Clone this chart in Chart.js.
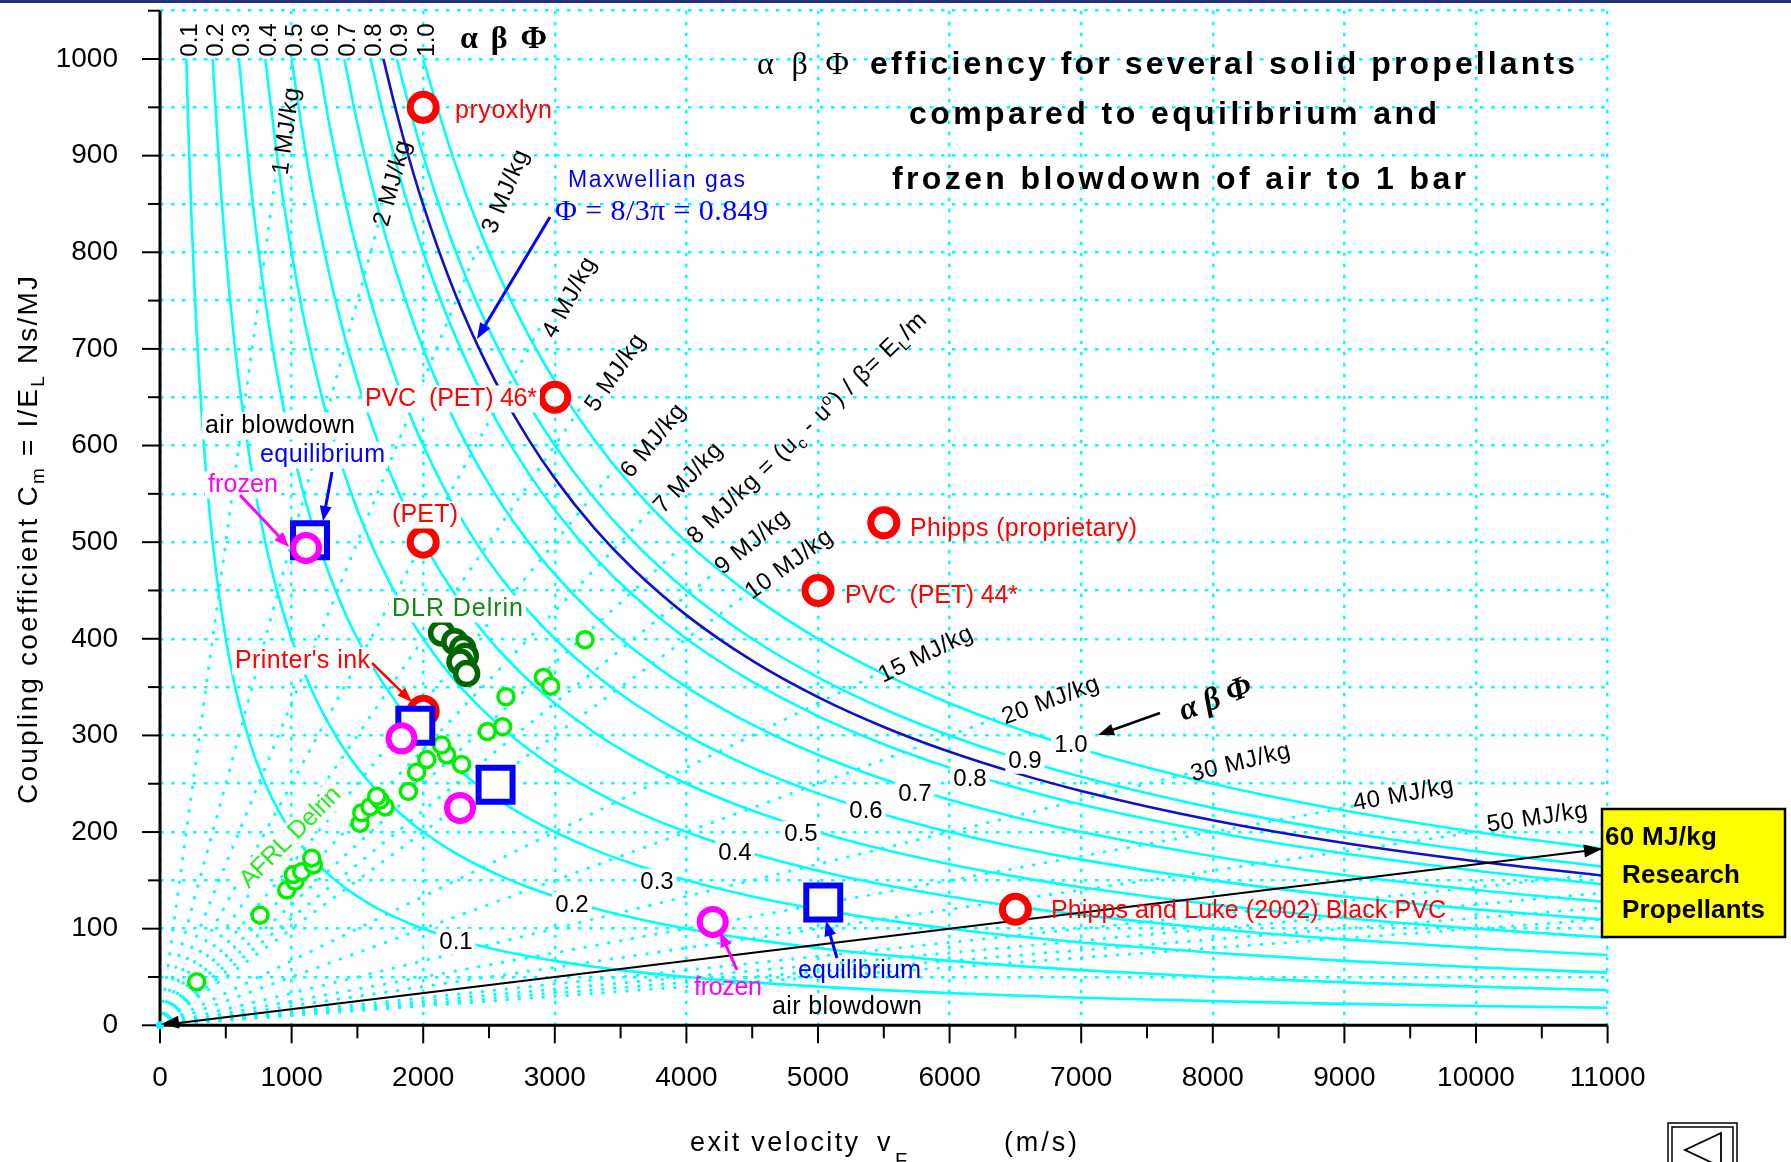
<!DOCTYPE html>
<html><head><meta charset="utf-8"><title>αβΦ efficiency for several solid propellants</title>
<script src="https://cdn.jsdelivr.net/npm/chart.js@4.4.1/dist/chart.umd.min.js"></script>
<style>html,body{margin:0;padding:0;background:#fff;overflow:hidden}canvas{display:block}</style>
</head><body>
<canvas id="chart" width="1791" height="1162"></canvas>
<script>
// ================= DATA =================
const xTickLabels = ['0','1000','2000','3000','4000','5000','6000','7000','8000','9000','10000','11000'];
const yTickLabels = ['0','100','200','300','400','500','600','700','800','900','1000'];

// iso-efficiency levels (alpha*beta*Phi) : Cm * v = 2 * level (Ns/MJ * m/s = 2e6 * level)
const efficiencyLevels = [0.1,0.2,0.3,0.4,0.5,0.6,0.7,0.8,0.9,1.0];
const maxwellianEfficiency = 0.849;          // Phi = 8/3pi
// iso-energy lines E_L/m (MJ/kg) : Cm = v / level ; each drawn from the origin up to its label
const energyLevels      = [1,2,3,4,5,6,7,8,9,10,15,20,30,40,50];
const energyLineEndV    = [878,1655,2470,2890,3220,3470,3750,3960,4230,4455,5440,6385,7820,9100,10100];
const unlabeledEnergyLevels = [70,80,90,100];
const researchEnergyLevel = 60;
const curveVelocities = [200,220,240,260,280,300,330,360,400,450,500,550,600,700,800,900,1000,1100,1200,1300,1400,1500,1600,1700,1800,1900,2000,2200,2400,2600,2800,3000,3300,3600,4000,4500,5000,5500,6000,6500,7000,8000,9000,10000,11000];

// AFRL Delrin (light green)
const afrlVelocity = [279,760,963,1026,1013,1077,1165,1153,1520,1533,1596,1710,1672,1647,1887,1950,2027,2178,2140,2292,2487,2604,2629,2913,2969,3230];
const afrlCm       = [45,114,140,149,156,159,166,173,209,220,226,226,233,237,242,262,275,280,290,270,304,309,340,360,351,399];
// DLR Delrin (dark green)
const dlrVelocity = [2140,2240,2300,2320,2280,2330];
const dlrCm       = [406,397,390,382,376,364];
// solid propellants (red)
const propellantNames    = ['pryoxlyn','PVC  (PET) 46*','(PET)','Phipps (proprietary)','PVC  (PET) 44*',"Printer's ink",'Phipps and Luke (2002) Black PVC'];
const propellantVelocity = [2000,3000,2000,5500,5000,2000,6500];
const propellantCm       = [950,650,500,520,450,325,120];
// air blowdown to 1 bar
const equilibriumVelocity = [1140,1940,2550,5040];
const equilibriumCm       = [502,310,249,127];
const frozenVelocity = [1110,1835,2280,4200];
const frozenCm       = [494,297,225,107];

// ================= HELPERS =================
const SANS = '"Liberation Sans", Arial, Helvetica, sans-serif';
const SERIF = '"Liberation Serif", "Times New Roman", serif';
const CYAN = '#00ffff';
const PLOT_TOP = 10.7;

function pts(xs, ys){ return xs.map((v,i)=>({x:v, y:ys[i]})); }
function isoEfficiency(level){
  const vTop = 2e6*level/1000;
  const out = [{x:vTop, y:1000}];
  curveVelocities.forEach(v => { if (v > vTop) out.push({x:v, y:2e6*level/v}); });
  return out;
}
function isoEnergy(level, vEnd){ return [{x:0,y:0},{x:vEnd,y:vEnd/level}]; }

function drawRuns(ctx, runs, x, y, o){
  ctx.save();
  ctx.textBaseline = 'alphabetic'; ctx.textAlign = 'left';
  const fam = o.family || SANS;
  const fontOf = r => `${r.style||o.style||'normal'} ${r.weight||o.weight||'normal'} ${r.size||o.size}px ${r.family||fam}`;
  let nat = 0, n = 0;
  try { ctx.letterSpacing = '0px'; } catch(e){}
  runs.forEach(r => { ctx.font = fontOf(r); r.w = ctx.measureText(r.t).width; r.n = [...r.t].length; nat += r.w; n += r.n; });
  let ls = o.ls || 0;
  if (o.width) ls = (o.width - nat)/Math.max(1, n-1);
  const total = nat + ls*(n-1);
  ctx.translate(x, y);
  if (o.rot) ctx.rotate(o.rot);
  let cx = o.align === 'center' ? -total/2 : (o.align === 'right' ? -total : 0);
  const dy = o.dy || 0;
  if (o.bg){
    const s = o.size;
    ctx.fillStyle = o.bg;
    ctx.fillRect(cx - 3, dy - s*0.82, total + 6, s*1.08);
  }
  ctx.fillStyle = o.color || '#000';
  runs.forEach(r => {
    ctx.font = fontOf(r);
    try { ctx.letterSpacing = ls + 'px'; } catch(e){}
    ctx.fillText(r.t, cx, dy + (r.dy||0));
    cx += r.w + ls*r.n;
  });
  ctx.restore();
}
function text(ctx, s, x, y, o){ drawRuns(ctx, [{t:s}], x, y, o); }

function arrowHead(ctx, x1,y1,x2,y2,color,len,half){
  const a = Math.atan2(y2-y1, x2-x1), c = Math.cos(a), s = Math.sin(a);
  ctx.save(); ctx.fillStyle = color; ctx.beginPath();
  ctx.moveTo(x2, y2);
  ctx.lineTo(x2 - len*c + half*s, y2 - len*s - half*c);
  ctx.lineTo(x2 - len*c - half*s, y2 - len*s + half*c);
  ctx.closePath(); ctx.fill(); ctx.restore();
}
function arrow(ctx, x1,y1,x2,y2,color,w,len,half){
  const a = Math.atan2(y2-y1, x2-x1);
  ctx.save(); ctx.strokeStyle = color; ctx.lineWidth = w;
  ctx.beginPath(); ctx.moveTo(x1,y1); ctx.lineTo(x2 - len*0.8*Math.cos(a), y2 - len*0.8*Math.sin(a)); ctx.stroke();
  ctx.restore();
  arrowHead(ctx, x1,y1,x2,y2,color,len,half);
}

// ================= DATASETS =================
const datasets = [];
energyLevels.forEach((level, i) => datasets.push({
  data: isoEnergy(level, energyLineEndV[i]), showLine: true, pointRadius: 0, borderColor: CYAN, borderWidth: 3,
  borderDash: [0.5, 11.5], borderCapStyle: 'round', order: 20
}));
unlabeledEnergyLevels.forEach(level => datasets.push({
  data: isoEnergy(level, 11000), showLine: true, pointRadius: 0, borderColor: CYAN, borderWidth: 3,
  borderDash: [0.5, 11.5], borderCapStyle: 'round', order: 20
}));
efficiencyLevels.forEach(level => datasets.push({
  data: isoEfficiency(level), showLine: true, pointRadius: 0, borderColor: CYAN, borderWidth: 2.6,
  cubicInterpolationMode: 'monotone', order: 15
}));
datasets.push({ data: isoEfficiency(maxwellianEfficiency), showLine: true, pointRadius: 0, borderColor: '#1010c8',
  borderWidth: 2.6, cubicInterpolationMode: 'monotone', order: 14 });
datasets.push({ data: isoEnergy(researchEnergyLevel, 11000), showLine: true, pointRadius: 0, borderColor: '#000', borderWidth: 2, order: 13 });
datasets.push({ label:'AFRL Delrin', data: pts(afrlVelocity, afrlCm), pointStyle:'circle', pointRadius: 8,
  pointBorderWidth: 3.5, pointBorderColor: '#00ee00', pointBackgroundColor: '#fff', order: 6 });
datasets.push({ label:'DLR Delrin', data: pts(dlrVelocity, dlrCm), pointStyle:'circle', pointRadius: 11,
  pointBorderWidth: 5.5, pointBorderColor: '#006600', pointBackgroundColor: '#fff', order: 5 });
datasets.push({ label:'propellants', data: pts(propellantVelocity, propellantCm), pointStyle:'circle', pointRadius: 13,
  pointBorderWidth: 7, pointBorderColor: '#ff0000', pointBackgroundColor: '#fff', order: 4 });
datasets.push({ label:'equilibrium', data: pts(equilibriumVelocity, equilibriumCm), pointStyle:'rect', pointRadius: 24,
  pointBorderWidth: 6, pointBorderColor: '#0000ff', pointBackgroundColor: '#fff', order: 3 });
datasets.push({ label:'frozen', data: pts(frozenVelocity, frozenCm), pointStyle:'circle', pointRadius: 13,
  pointBorderWidth: 6, pointBorderColor: '#ff00ff', pointBackgroundColor: '#fff', order: 2 });

// ================= PLUGINS =================
const fixTop = {
  id: 'fixTop',
  afterLayout(chart){
    const ca = chart.chartArea, ys = chart.scales.y;
    ca.top = PLOT_TOP; ca.height = ca.bottom - ca.top;
    ys.top = PLOT_TOP; ys.height = ys.bottom - ys.top;
    ys.configure();
  }
};

const decor = {
  id: 'decor',
  beforeDraw(chart){
    const ctx = chart.ctx; ctx.save(); ctx.fillStyle = '#fff'; ctx.fillRect(0,0,chart.width,chart.height); ctx.restore();
  },
  afterDraw(chart){
    const ctx = chart.ctx, xs = chart.scales.x, ys = chart.scales.y, a = chart.chartArea;
    const X = v => xs.getPixelForValue(v), Y = c => ys.getPixelForValue(c);

    // top navy band
    ctx.save(); ctx.fillStyle = '#23307e'; ctx.fillRect(0,0,chart.width,3); ctx.restore();

    // axes + ticks
    ctx.save(); ctx.strokeStyle = '#000'; ctx.lineWidth = 3;
    ctx.beginPath(); ctx.moveTo(a.left, a.top); ctx.lineTo(a.left, a.bottom); ctx.lineTo(a.right, a.bottom); ctx.stroke();
    ctx.lineWidth = 2;
    for (let c = 0; c <= 1050; c += 50){
      const L = (c % 100 === 0) ? 18 : 12;
      ctx.beginPath(); ctx.moveTo(a.left, Y(c)); ctx.lineTo(a.left - L, Y(c)); ctx.stroke();
    }
    for (let v = 0; v <= 11000; v += 500){
      const L = (v % 1000 === 0) ? 18 : 13;
      ctx.beginPath(); ctx.moveTo(X(v), a.bottom); ctx.lineTo(X(v), a.bottom + L); ctx.stroke();
    }
    ctx.restore();
    // origin dot
    ctx.save(); ctx.fillStyle = CYAN; ctx.beginPath(); ctx.arc(X(0), Y(0), 4, 0, 2*Math.PI); ctx.fill(); ctx.restore();

    // top efficiency labels (vertical)
    efficiencyLevels.forEach(level => {
      text(ctx, level.toFixed(1), X(2000*level) + 2, 40, {size:24, align:'center', rot:-Math.PI/2, dy:8.5});
    });
    text(ctx, 'α β Φ', 460, 48, {size:32, weight:'bold', family:SERIF, width:87});

    // title
    text(ctx, 'α β Φ', 757, 74, {size:32, family:SERIF, width:92});
    text(ctx, 'efficiency for several solid propellants', 870, 74, {size:32, weight:'bold', width:705});
    text(ctx, 'compared to equilibrium and', 909, 124, {size:32, weight:'bold', width:528});
    text(ctx, 'frozen blowdown of air to 1 bar', 892, 189, {size:32, weight:'bold', width:574});

    // Maxwellian gas
    text(ctx, 'Maxwellian gas', 568, 187, {size:23, color:'#0000ff', width:177});
    text(ctx, 'Φ = 8/3π = 0.849', 555, 220, {size:30, family:SERIF, color:'#0000ff', width:213});
    arrow(ctx, 550, 217, 477, 339, '#0000ff', 3, 16, 6);

    // energy labels
    const rotE = level => -Math.atan2(Y(0) - Y(1000/level), X(1000) - X(0));
    const energyLabelLayout = [
      {e:1,x:285,y:131},{e:2,x:391,y:183},{e:3,x:504,y:191},{e:4,x:568,y:297},{e:5,x:614,y:372},
      {e:6,x:652,y:440},{e:7,x:687,y:477},{e:9,x:751,y:541},{e:10,x:788,y:563},{e:15,x:925,y:653},
      {e:20,x:1050,y:699},{e:30,x:1240,y:761},{e:40,x:1403,y:793},{e:50,x:1537,y:816}
    ];
    energyLabelLayout.forEach(p => {
      if (!energyLevels.includes(p.e)) return;
      text(ctx, p.e + ' MJ/kg', p.x, p.y, {size:24, align:'center', rot:rotE(p.e), dy:8.5, ls:0.6});
    });
    // long 8 MJ/kg label
    drawRuns(ctx, [
      {t:'8 MJ/kg = (u'}, {t:'c', size:16, dy:6}, {t:' - u'}, {t:'o', size:16, dy:-9},
      {t:') / β= E'}, {t:'L', size:16, dy:6}, {t:'/m'}
    ], 806, 427, {size:24, align:'center', rot:-44*Math.PI/180, dy:8.5, width:322});

    // bottom efficiency labels
    const effLabelLayout = [[456,940],[572,903.5],[657,880],[735,851],[801,832],[866,809],[915,792.5],[970,777.5],[1025,759],[1071,743]];
    efficiencyLevels.forEach((level, i) => {
      const p = effLabelLayout[i];
      text(ctx, level.toFixed(1), p[0], p[1], {size:24, align:'center', dy:8.5, bg:'#fff'});
    });
    // αβΦ arrow (right)
    text(ctx, 'α β Φ', 1215, 698, {size:32, weight:'bold', style:'italic', family:SERIF, align:'center', rot:-21*Math.PI/180, dy:10});
    arrow(ctx, 1160, 713, 1098, 735, '#000', 2.5, 16, 6);

    // red propellant labels
    const red = '#ff0000';
    const redLayout = [
      {x:455,y:118,w:97},{x:365,y:406,w:172,bg:1},{x:392,y:522,w:66,bg:1},{x:910,y:536,w:227},
      {x:845,y:603,w:173},{x:235,y:668,w:135,bg:1},{x:1051,y:918,w:395}
    ];
    propellantNames.forEach((name, i) => {
      const p = redLayout[i];
      text(ctx, name, p.x, p.y, {size:25, color:red, width:p.w, bg: p.bg ? '#fff' : null});
    });
    arrow(ctx, 372, 663, 412, 702, red, 2.5, 15, 5.5);

    // air blowdown labels (top-left)
    text(ctx, 'air blowdown', 205, 433, {size:25, width:150, bg:'#fff'});
    text(ctx, 'equilibrium', 260, 462, {size:25, color:'#0000ff', width:125, bg:'#fff'});
    text(ctx, 'frozen', 208, 492, {size:25, color:'#ff00ff', width:70, bg:'#fff'});
    arrow(ctx, 332, 472, 323, 521, '#0000ff', 3, 15, 6);
    arrow(ctx, 240, 495, 289, 547, '#ff00ff', 3, 15, 6);
    // air blowdown labels (bottom)
    text(ctx, 'frozen', 694, 995, {size:25, color:'#ff00ff', width:68});
    arrow(ctx, 737, 970, 720, 932, '#ff00ff', 3, 15, 6);
    text(ctx, 'equilibrium', 798, 978, {size:25, color:'#0000ff', width:123});
    arrow(ctx, 837, 958, 826, 921, '#0000ff', 3, 15, 6);
    text(ctx, 'air blowdown', 772, 1014, {size:25, width:150});

    // Delrin labels
    text(ctx, 'DLR Delrin', 392, 616, {size:25, color:'#118811', width:131, bg:'#fff'});
    text(ctx, 'AFRL Delrin', 289, 836, {size:25, color:'#22ee22', align:'center', rot:-45*Math.PI/180, dy:9, width:132, bg:'#fff'});

    // 60 MJ/kg arrow heads
    const x0 = X(0), y0 = Y(0), x1 = X(11000), y1 = Y(11000/researchEnergyLevel);
    const tx = 1602, ty = y0 + (y1 - y0)*(tx - x0)/(x1 - x0);
    arrowHead(ctx, x1, y1, x0 + 1, y0 - 1, '#000', 18, 6.5);
    // yellow box
    ctx.save(); ctx.fillStyle = '#ffff00'; ctx.fillRect(1602, 809, 183, 128);
    ctx.strokeStyle = '#000'; ctx.lineWidth = 2.5; ctx.strokeRect(1602, 809, 183, 128); ctx.restore();
    arrowHead(ctx, x0, y0, tx, ty, '#000', 18, 6.5);
    text(ctx, '60 MJ/kg', 1605, 845, {size:26, weight:'bold', width:112});
    text(ctx, 'Research', 1622, 883, {size:26, weight:'bold', width:118});
    text(ctx, 'Propellants', 1622, 918, {size:26, weight:'bold', width:143});

    // slide navigation icon (bottom right)
    ctx.save(); ctx.strokeStyle = '#000'; ctx.lineWidth = 1.5;
    ctx.strokeRect(1668, 1123, 69, 60); ctx.strokeRect(1672, 1127, 61, 56);
    ctx.lineWidth = 1.8; ctx.beginPath(); ctx.moveTo(1721, 1133); ctx.lineTo(1685, 1150); ctx.lineTo(1721, 1167); ctx.closePath(); ctx.stroke();
    ctx.restore();

    // axis titles
    text(ctx, 'exit velocity', 690, 1151, {size:27, width:168});
    text(ctx, 'v', 877, 1151, {size:27});
    text(ctx, 'F', 895, 1167, {size:20});
    text(ctx, '(m/s)', 1004, 1151, {size:27, width:73});
    drawRuns(ctx, [
      {t:'Coupling coefficient C'}, {t:'m', size:19, dy:7}, {t:' = I/E'}, {t:'L', size:19, dy:7}, {t:' Ns/MJ'}
    ], 37, 540, {size:28, align:'center', rot:-Math.PI/2, width:528});
  }
};

// ================= CHART =================
new Chart(document.getElementById('chart'), {
  type: 'scatter',
  data: { datasets },
  options: {
    responsive: false, maintainAspectRatio: false, devicePixelRatio: 1, animation: false, events: [],
    layout: { padding: { left: 0, top: PLOT_TOP, right: 183.4, bottom: 0 } },
    plugins: { legend: { display: false }, tooltip: { enabled: false } },
    scales: {
      x: {
        type: 'linear', min: 0, max: 11000,
        afterFit: s => { s.height = 136.7; s.paddingLeft = 0; s.paddingRight = 0; },
        ticks: { stepSize: 1000, autoSkip: false, maxRotation: 0, padding: 36, color: '#000',
                 font: { size: 28, family: SANS }, callback: (v, i) => xTickLabels[i] },
        grid: { color: CYAN, lineWidth: 2.5, drawTicks: false },
        border: { display: false, dash: [3.5, 7.5] }
      },
      y: {
        type: 'linear', min: 0, max: 1050,
        afterFit: s => { s.width = 160; s.paddingTop = 0; s.paddingBottom = 0; },
        ticks: { stepSize: 50, autoSkip: false, padding: 42, color: '#000',
                 font: { size: 28, family: SANS, lineHeight: 0.01 },
                 callback: v => (v % 100 === 0 && v <= 1000) ? yTickLabels[v/100] : '' },
        grid: { color: CYAN, lineWidth: 2.5, drawTicks: false },
        border: { display: false, dash: [3.5, 7.5] }
      }
    }
  },
  plugins: [fixTop, decor]
});
</script>
</body></html>
